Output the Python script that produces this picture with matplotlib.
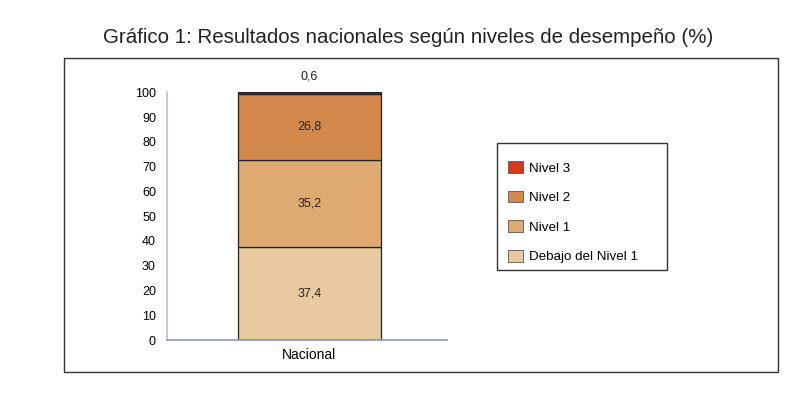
import matplotlib.pyplot as plt
from matplotlib.patches import Rectangle, Patch

# data
category = ['Nacional']
levels = ['Debajo del Nivel 1', 'Nivel 1', 'Nivel 2', 'Nivel 3']
values = [37.4, 35.2, 26.8, 0.6]
bar_colors = ['#e8c9a0', '#deaa72', '#d4894c', '#7a2410']
legend_colors = ['#e8c9a0', '#deaa72', '#d4894c', '#d63a1c']
yticks = [0, 10, 20, 30, 40, 50, 60, 70, 80, 90, 100]

plt.rcParams['font.family'] = ['Liberation Sans', 'DejaVu Sans']

fig = plt.figure(figsize=(7.86, 4.03), dpi=100)
fig.patch.set_facecolor('white')

# outer frame around the chart
fig.patches.append(Rectangle((0.0814, 0.077), 0.908, 0.779, transform=fig.transFigure,
                             fill=False, edgecolor='#333333', linewidth=1.0))

fig.text(0.519, 0.907, 'Gráfico 1: Resultados nacionales según niveles de desempeño (%)',
         ha='center', va='center', fontsize=14.8, color='#222222')

ax = fig.add_axes([0.2125, 0.156, 0.356, 0.615])
bottom = 0
for lvl, val, col in zip(levels, values, bar_colors):
    ax.bar(0, val, bottom=bottom, width=0.8, color=col, edgecolor='#222222',
           linewidth=0.9, label=lvl)
    if val > 5:
        ax.text(0, bottom + val / 2, f'{val:.1f}'.replace('.', ','),
                ha='center', va='center', fontsize=9, color='#222222')
    else:
        ax.text(0, bottom + val + 4, f'{val:.1f}'.replace('.', ','),
                ha='center', va='bottom', fontsize=9, color='#222222')
    bottom += val

ax.set_xlim(-0.797, 0.769)
ax.set_ylim(0, 100)
ax.set_yticks(yticks)
ax.set_yticklabels([str(t) for t in yticks], fontsize=9)
ax.set_xticks([0])
ax.set_xticklabels(category, fontsize=10)
ax.tick_params(length=0, pad=8)
ax.tick_params(axis='x', pad=6)
for s in ['top', 'right']:
    ax.spines[s].set_visible(False)
ax.spines['left'].set_color('#b8c0cc')
ax.spines['bottom'].set_color('#8a9ab0')
ax.spines['left'].set_linewidth(1.2)
ax.spines['bottom'].set_linewidth(1.2)

# legend box drawn separately so its padding matches the original
fig.patches.append(Rectangle((0.6323, 0.330), 0.2163, 0.315, transform=fig.transFigure,
                             fill=False, edgecolor='#333333', linewidth=1.0))
handles = [Patch(facecolor=c, edgecolor='#555555', linewidth=0.6) for c in legend_colors[::-1]]
leg = fig.legend(handles, levels[::-1], loc='upper left',
                 bbox_to_anchor=(0.6463, 0.6005), fontsize=9.6, frameon=False,
                 handlelength=1.1, handleheight=1.0,
                 handletextpad=0.45, labelspacing=1.2, borderpad=0.0,
                 borderaxespad=0.0)

fig.savefig('out.png', dpi=100)
